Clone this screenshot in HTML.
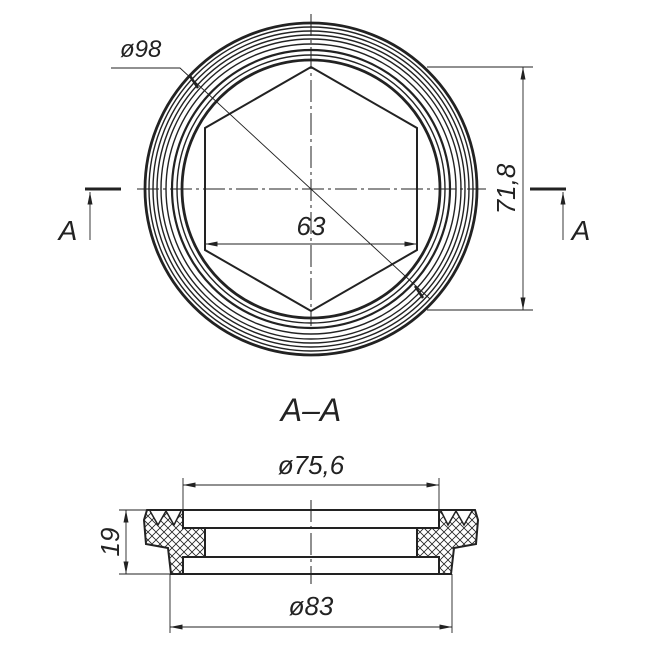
<!DOCTYPE html>
<html><head><style>body{margin:0;background:#fff}svg{display:block}text{font-family:"Liberation Sans",sans-serif;font-style:italic;fill:#222}</style></head><body>
<svg width="650" height="650" viewBox="0 0 650 650" xmlns="http://www.w3.org/2000/svg">
<defs>
<marker id="ar" viewBox="0 0 10 4" refX="10" refY="2" markerWidth="14" markerHeight="5" orient="auto-start-reverse" markerUnits="userSpaceOnUse"><path d="M0,0L10,2L0,4z" fill="#222"/></marker>
<pattern id="x" width="8" height="8" patternUnits="userSpaceOnUse"><path d="M0,0L8,8M8,0L0,8" stroke="#222" stroke-width="0.8"/></pattern>
</defs>
<g fill="none" stroke="#222">
<circle cx="311" cy="189" r="166" stroke-width="2.8"/>
<circle cx="311" cy="189" r="162" stroke-width="1.4"/>
<circle cx="311" cy="189" r="158" stroke-width="1.4"/>
<circle cx="311" cy="189" r="154" stroke-width="1.4"/>
<circle cx="311" cy="189" r="150" stroke-width="1.4"/>
<circle cx="311" cy="189" r="145" stroke-width="1.4"/>
<circle cx="311" cy="189" r="139" stroke-width="2.2"/>
<circle cx="311" cy="189" r="134" stroke-width="1.4"/>
<circle cx="311" cy="189" r="129" stroke-width="2.8"/>
<polygon points="311,67 417,128 417,250 311,311 205,250 205,128" stroke-width="2"/>
<g stroke-width="1" stroke-dasharray="22,4,3,4">
<line x1="311" y1="14" x2="311" y2="326"/><line x1="137" y1="189" x2="486" y2="189"/>
</g>
<g stroke-width="0.9">
<polyline points="111,68 180,68 430,299"/>
<line x1="190" y1="76" x2="198" y2="88" stroke-width="2.5"/>
<line x1="415" y1="286" x2="423" y2="298" stroke-width="2.5"/>
<line x1="205" y1="244" x2="417" y2="244" marker-start="url(#ar)" marker-end="url(#ar)"/>
<line x1="427" y1="67" x2="533" y2="67"/><line x1="427" y1="310" x2="533" y2="310"/>
<line x1="523" y1="67" x2="523" y2="310" marker-start="url(#ar)" marker-end="url(#ar)"/>
<line x1="90" y1="240" x2="90" y2="192" marker-end="url(#ar)"/>
<line x1="563" y1="240" x2="563" y2="192" marker-end="url(#ar)"/>
</g>
<line x1="85" y1="189" x2="121" y2="189" stroke-width="3"/>
<line x1="530" y1="189" x2="566" y2="189" stroke-width="3"/>
<rect x="183" y="510" width="256" height="18" stroke-width="2"/>
<rect x="183" y="557" width="256" height="17" stroke-width="2"/>
<line x1="205" y1="528" x2="417" y2="528" stroke-width="2"/>
<line x1="205" y1="557" x2="417" y2="557" stroke-width="2"/>
<path d="M147,510L183,510L183,528L205,528L205,557L183,557L183,574L171,574L168,548L146,544L144,520Z" fill="url(#x)" stroke-width="2"/>
<path d="M475,510L439,510L439,528L417,528L417,557L439,557L439,574L451,574L454,548L476,544L478,520Z" fill="url(#x)" stroke-width="2"/>
<path d="M150,511L158,525L166,511L174,525L181,511" fill="#fff" stroke-width="1.5"/>
<path d="M472,511L464,525L456,511L448,525L441,511" fill="#fff" stroke-width="1.5"/>
<line x1="311" y1="500" x2="311" y2="584" stroke-width="1" stroke-dasharray="22,4,3,4"/>
<g stroke-width="0.9">
<line x1="183" y1="478" x2="183" y2="510"/><line x1="439" y1="478" x2="439" y2="510"/>
<line x1="183" y1="485" x2="439" y2="485" marker-start="url(#ar)" marker-end="url(#ar)"/>
<line x1="170" y1="574" x2="170" y2="633"/><line x1="452" y1="574" x2="452" y2="633"/>
<line x1="170" y1="627" x2="452" y2="627" marker-start="url(#ar)" marker-end="url(#ar)"/>
<line x1="119" y1="510" x2="147" y2="510"/><line x1="119" y1="574" x2="170" y2="574"/>
<line x1="126" y1="510" x2="126" y2="574" marker-start="url(#ar)" marker-end="url(#ar)"/>
</g>
</g>
<text x="120" y="57" font-size="24">ø98</text>
<text x="311" y="235" font-size="26" text-anchor="middle">63</text>
<text x="0" y="0" font-size="26" text-anchor="middle" transform="translate(515,189) rotate(-90)">71,8</text>
<text x="68" y="240" font-size="28" text-anchor="middle" font-style="normal">A</text>
<text x="581" y="240" font-size="28" text-anchor="middle" font-style="normal">A</text>
<text x="311" y="421" font-size="32" text-anchor="middle" font-style="normal">A–A</text>
<text x="311" y="474" font-size="26" text-anchor="middle">ø75,6</text>
<text x="311" y="615" font-size="26" text-anchor="middle">ø83</text>
<text x="0" y="0" font-size="26" text-anchor="middle" transform="translate(119,542) rotate(-90)">19</text>
</svg>
</body></html>
